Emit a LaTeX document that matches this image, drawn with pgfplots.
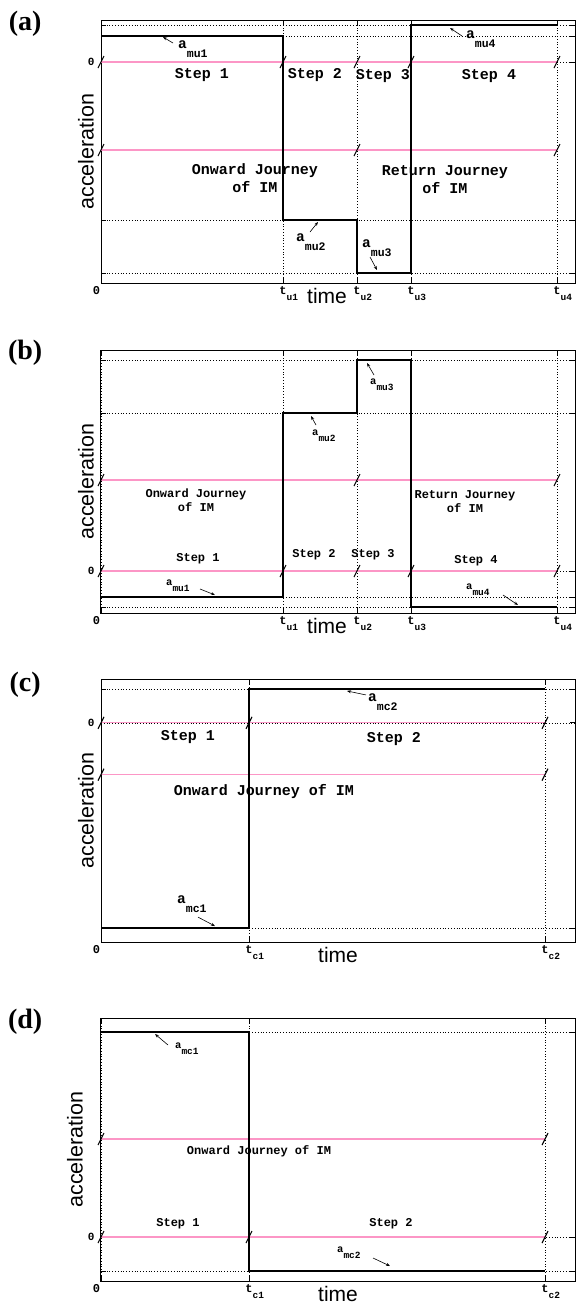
\documentclass[border=0pt]{standalone}
\usepackage{fontspec}
\setmainfont{Liberation Serif}
\newfontfamily\cour{Liberation Mono}
\newfontfamily\helv{Liberation Sans}
\usepackage{pgfplots}
\pgfplotsset{compat=1.18}
\usetikzlibrary{arrows.meta}
\definecolor{jpink}{RGB}{252,150,198}

% little break mark drawn where the pink lines cross the step boundaries
\pgfdeclareplotmark{brk}{\pgfpathmoveto{\pgfqpoint{-3pt}{-6pt}}\pgfpathlineto{\pgfqpoint{3pt}{6pt}}\pgfusepathqstroke}

\newcommand\tk[1]{t\rlap{\raisebox{-6pt}{\fontsize{9.5}{9.5}\selectfont #1}}}
\newcommand\zr{\llap{0\kern1pt}}
\newcommand\abig[1]{{\cour\bfseries\fontsize{14.5}{14.5}\selectfont a\raisebox{-9pt}{\fontsize{11.5}{11.5}\selectfont #1}}}
\newcommand\asml[1]{{\cour\bfseries\fontsize{10.5}{10.5}\selectfont a\raisebox{-6pt}{\fontsize{9.5}{9.5}\selectfont #1}}}

\pgfplotsset{
  panel/.style={scale only axis, width=474pt, height=263pt, xmin=0, xmax=474,
    anchor=north west, clip=false,
    axis line style={line width=1pt}, tick style={black, line width=0.8pt},
    major tick length=5pt, tick align=inside,
    xmajorgrids, ymajorgrids, grid style={black, line width=0.5pt, dash pattern=on 0.6pt off 2.2pt},
    xticklabel style={font=\cour\bfseries\fontsize{12}{12}\selectfont},
    yticklabel style={font=\cour\bfseries\fontsize{11}{11}\selectfont, xshift=-3pt},
    xlabel={time}, ylabel={acceleration},
    xlabel style={font=\helv\fontsize{21}{21}\selectfont, at={(axis description cs:0.5,0)}, anchor=center, yshift=-13pt},
    ylabel style={font=\helv\fontsize{21.5}{21.5}\selectfont, at={(axis description cs:-0.032,0.5)}, anchor=center},
  },
  stepline/.style={const plot, black, line width=1.2pt},
  jline/.style={jpink, line width=1.1pt},
  brks/.style={only marks, mark=brk, mark options={black, line width=1.1pt}},
}
\tikzset{
  arr/.style={-{Stealth[length=4pt,width=3pt]}, line width=0.6pt},
  albl/.style={anchor=base west, inner sep=0pt},
  txtbig/.style={font=\cour\bfseries\fontsize{15}{18}\selectfont, align=center, inner sep=0pt},
  txtsml/.style={font=\cour\bfseries\fontsize{12}{14}\selectfont, align=center, inner sep=0pt},
  plbl/.style={font=\bfseries\fontsize{28}{28}\selectfont},
}

\begin{document}
\begin{tikzpicture}
\useasboundingbox (0,0) rectangle (576pt,-1307pt);

% (a)
\begin{axis}[panel, at={(101pt,-20pt)}, ymin=-221, ymax=42,
  xtick={0,182,256,310,456}, xticklabels={\zr,\tk{u1},\tk{u2},\tk{u3},\tk{u4}},
  ytick={-211,-158,0,26,37}, yticklabels={,,0,,},
  xlabel style={xshift=-11pt}]
\addplot[jline] coordinates {(0,0) (456,0)};
\addplot[jline] coordinates {(0,-88) (456,-88)};
\addplot[stepline] coordinates {(0,26) (182,-158) (256,-211) (310,37) (456,37)};
\addplot[brks] coordinates {(0,0) (182,0) (256,0) (310,0) (456,0) (0,-88) (256,-88) (456,-88)};
\node[txtbig] at (axis cs:101,-13) {Step 1};
\node[txtbig] at (axis cs:214,-13) {Step 2};
\node[txtbig] at (axis cs:282,-14) {Step 3};
\node[txtbig] at (axis cs:388,-14) {Step 4};
\node[txtbig] at (axis cs:154,-116) {Onward Journey\\of IM};
\node[txtbig] at (axis cs:344,-118) {Return Journey\\of IM};
\node[albl] at (axis cs:77,14) {\abig{mu1}};
\node[albl] at (axis cs:195,-179) {\abig{mu2}};
\node[albl] at (axis cs:261,-185) {\abig{mu3}};
\node[albl] at (axis cs:365,24) {\abig{mu4}};
\draw[arr] (axis cs:72,19) -- (axis cs:62,25);
\draw[arr] (axis cs:209,-170) -- (axis cs:217,-160);
\draw[arr] (axis cs:269,-195) -- (axis cs:276,-208);
\draw[arr] (axis cs:361,26) -- (axis cs:349,34);
\node[plbl] at (rel axis cs:-0.16,0.985) {(a)};
\end{axis}

% (b)
\begin{axis}[panel, at={(101pt,-350pt)}, ymin=-42, ymax=221,
  xtick={0,182,256,310,456}, xticklabels={\zr,\tk{u1},\tk{u2},\tk{u3},\tk{u4}},
  ytick={-36,-26,0,158,211}, yticklabels={,,0,,},
  xlabel style={xshift=-11pt}]
\addplot[jline] coordinates {(0,0) (456,0)};
\addplot[jline] coordinates {(0,91) (456,91)};
\addplot[stepline] coordinates {(0,-26) (182,158) (256,211) (310,-36) (456,-36)};
\addplot[brks] coordinates {(0,0) (182,0) (256,0) (310,0) (456,0) (0,91) (256,91) (456,91)};
\node[txtsml] at (axis cs:97,12) {Step 1};
\node[txtsml] at (axis cs:213,16) {Step 2};
\node[txtsml] at (axis cs:272,16) {Step 3};
\node[txtsml] at (axis cs:375,10) {Step 4};
\node[txtsml] at (axis cs:95,71) {Onward Journey\\of IM};
\node[txtsml] at (axis cs:364,69) {Return Journey\\of IM};
\node[albl] at (axis cs:65,-14) {\asml{mu1}};
\node[albl] at (axis cs:211,136) {\asml{mu2}};
\node[albl] at (axis cs:269,187) {\asml{mu3}};
\node[albl] at (axis cs:365,-18) {\asml{mu4}};
\draw[arr] (axis cs:99,-18) -- (axis cs:114,-24);
\draw[arr] (axis cs:215,146) -- (axis cs:210,155);
\draw[arr] (axis cs:273,196) -- (axis cs:266,208);
\draw[arr] (axis cs:402,-24) -- (axis cs:417,-34);
\node[plbl] at (rel axis cs:-0.16,0.988) {(b)};
\end{axis}

% (c)
\begin{axis}[panel, at={(101pt,-679pt)}, ymin=-220, ymax=44,
  xtick={0,148,444}, xticklabels={\zr,\tk{c1},\tk{c2}},
  ytick={-206,0,34}, yticklabels={,0,}]
\addplot[jline] coordinates {(0,0) (444,0)};
\addplot[jline] coordinates {(0,-52) (444,-52)};
\addplot[stepline] coordinates {(0,-206) (148,34) (444,34)};
\addplot[brks] coordinates {(0,0) (148,0) (444,0) (0,-52) (444,-52)};
\node[txtbig] at (axis cs:87,-14) {Step 1};
\node[txtbig] at (axis cs:293,-16) {Step 2};
\node[txtbig] at (axis cs:163,-69) {Onward Journey of IM};
\node[albl] at (axis cs:76,-181) {\abig{mc1}};
\node[albl] at (axis cs:267,21) {\abig{mc2}};
\draw[arr] (axis cs:97,-195) -- (axis cs:114,-204);
\draw[arr] (axis cs:265,28) -- (axis cs:246,32);
\node[plbl] at (rel axis cs:-0.16,0.977) {(c)};
\end{axis}

% (d)
\begin{axis}[panel, at={(101pt,-1018pt)}, ymin=-44, ymax=219,
  xtick={0,148,444}, xticklabels={\zr,\tk{c1},\tk{c2}},
  ytick={-34,0,205}, yticklabels={,0,},
  ylabel style={at={(axis description cs:-0.055,0.5)}}]
\addplot[jline] coordinates {(0,0) (444,0)};
\addplot[jline] coordinates {(0,98) (444,98)};
\addplot[stepline] coordinates {(0,205) (148,-34) (444,-34)};
\addplot[brks] coordinates {(0,0) (148,0) (444,0) (0,98) (444,98)};
\node[txtsml] at (axis cs:77,13) {Step 1};
\node[txtsml] at (axis cs:290,13) {Step 2};
\node[txtsml] at (axis cs:158,86) {Onward Journey of IM};
\node[albl] at (axis cs:74,189) {\asml{mc1}};
\node[albl] at (axis cs:236,-15) {\asml{mc2}};
\draw[arr] (axis cs:67,192) -- (axis cs:54,203);
\draw[arr] (axis cs:272,-21) -- (axis cs:289,-29);
\node[plbl] at (rel axis cs:-0.16,0.985) {(d)};
\end{axis}
\end{tikzpicture}
\end{document}
